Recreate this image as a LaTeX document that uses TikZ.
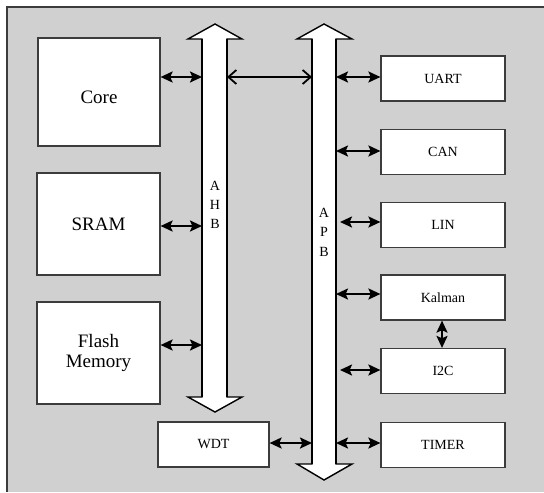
\documentclass[tikz,border=0pt]{standalone}
\usepackage{fontspec}
\setmainfont{Liberation Serif}
\usetikzlibrary{arrows.meta}
\definecolor{panel}{HTML}{D0D0D0}
\definecolor{edge}{HTML}{3C3C3C}
\tikzset{
  block/.style={draw=edge, line width=0.6pt, fill=white, inner sep=1pt, align=center},
  bigblock/.style={block, font=\fontsize{9.5}{11}\selectfont},
  periph/.style={block, minimum width=62pt, minimum height=22.5pt, font=\fontsize{7}{8}\selectfont},
  conn/.style={line width=1.1pt, {Stealth[length=6pt,width=5.5pt,inset=1.2pt]}-{Stealth[length=6pt,width=5.5pt,inset=1.2pt]}},
  link/.style={line width=0.9pt, {Straight Barb[length=4pt,width=7pt]}-{Straight Barb[length=4pt,width=7pt]}},
  busbody/.style={fill=white, draw=black, line width=0.7pt, line join=miter},
  busside/.style={line width=1.3pt},
  shaft/.style={inner sep=0pt, outer sep=0pt, minimum width=#1, draw=none},
  busletter/.style={font=\fontsize{7}{7}\selectfont, inner sep=0pt}
}
\begin{document}
\begin{tikzpicture}[x=0.5pt, y=-0.5pt]
\useasboundingbox (0,0) rectangle (544,492);
% panel
\fill[panel] (7,7) rectangle (544,492);
\draw[edge, line width=1pt] (7,492) -- (7,7) -- (544,7);

% AHB bus arrow
\draw[busbody] (202,39) -- (188,39) -- (215,24) -- (242,39) -- (227,39) -- (227,397)
  -- (242,397) -- (215,412) -- (188,397) -- (202,397) -- cycle;
\draw[busside] (202,39) -- (202,397) (227,39) -- (227,397);
\node[shaft=12.5pt, minimum height=179pt] (ahb) at (214.5,218) {};
\node[busletter] (ahbA) at (215,186) {A};
\node[busletter] (ahbH) at (215,205) {H};
\node[busletter] (ahbB) at (215,224) {B};

% APB bus arrow
\draw[busbody] (312,39) -- (297,39) -- (324,24) -- (352,39) -- (336,39) -- (336,464)
  -- (352,464) -- (324,480) -- (297,464) -- (312,464) -- cycle;
\draw[busside] (312,39) -- (312,464) (336,39) -- (336,464);
\node[shaft=12pt, minimum height=212.5pt] (apb) at (324,251.5) {};
\node[busletter] (apbA) at (324,213) {A};
\node[busletter] (apbP) at (324,232) {P};
\node[busletter] (apbB) at (324,252) {B};

% masters and memories
\node[bigblock, minimum width=61pt, minimum height=54pt, text height=11pt, text depth=0pt] (core) at (99,92) {Core};
\node[bigblock, minimum width=61.5pt, minimum height=51pt] (sram) at (98.5,224) {SRAM};
\node[bigblock, minimum width=61.5pt, minimum height=51pt] (flash) at (98.5,353) {Flash\\[-1pt]Memory};
\node[periph, minimum width=55.5pt] (wdt) at (213.5,444.5) {WDT};

% peripherals
\node[periph] (uart)   at (443,78.5) {UART};
\node[periph] (can)    at (443,152)  {CAN};
\node[periph] (lin)    at (443,225)  {LIN};
\node[periph] (kalman) at (443,297.5) {Kalman};
\node[periph] (iic)    at (443,371)  {I2C};
\node[periph] (timer)  at (443,445)  {TIMER};

% AHB connections
\draw[conn] (core.east |- 0,77) -- (ahb.west |- 0,77);
\draw[conn] (sram.east |- 0,226) -- (ahb.west |- 0,226);
\draw[conn] (flash.east |- 0,345) -- (ahb.west |- 0,345);
\draw[link] (ahb.east |- 0,77) -- (apb.west |- 0,77);

% APB connections
\draw[conn] (apb.east |- 0,77) -- (uart.west |- 0,77);
\draw[conn] (apb.east |- 0,151) -- (can.west |- 0,151);
\draw[conn, shorten <=2pt] (apb.east |- 0,222) -- (lin.west |- 0,222);
\draw[conn] (apb.east |- 0,294) -- (kalman.west |- 0,294);
\draw[conn, shorten <=2pt] (apb.east |- 0,370) -- (iic.west |- 0,370);
\draw[conn] (apb.east |- 0,443) -- (timer.west |- 0,443);
\draw[conn] (wdt.east |- 0,443) -- (apb.west |- 0,443);
\draw[conn] (kalman.south -| 442,0) -- (iic.north -| 442,0);
\end{tikzpicture}
\end{document}
